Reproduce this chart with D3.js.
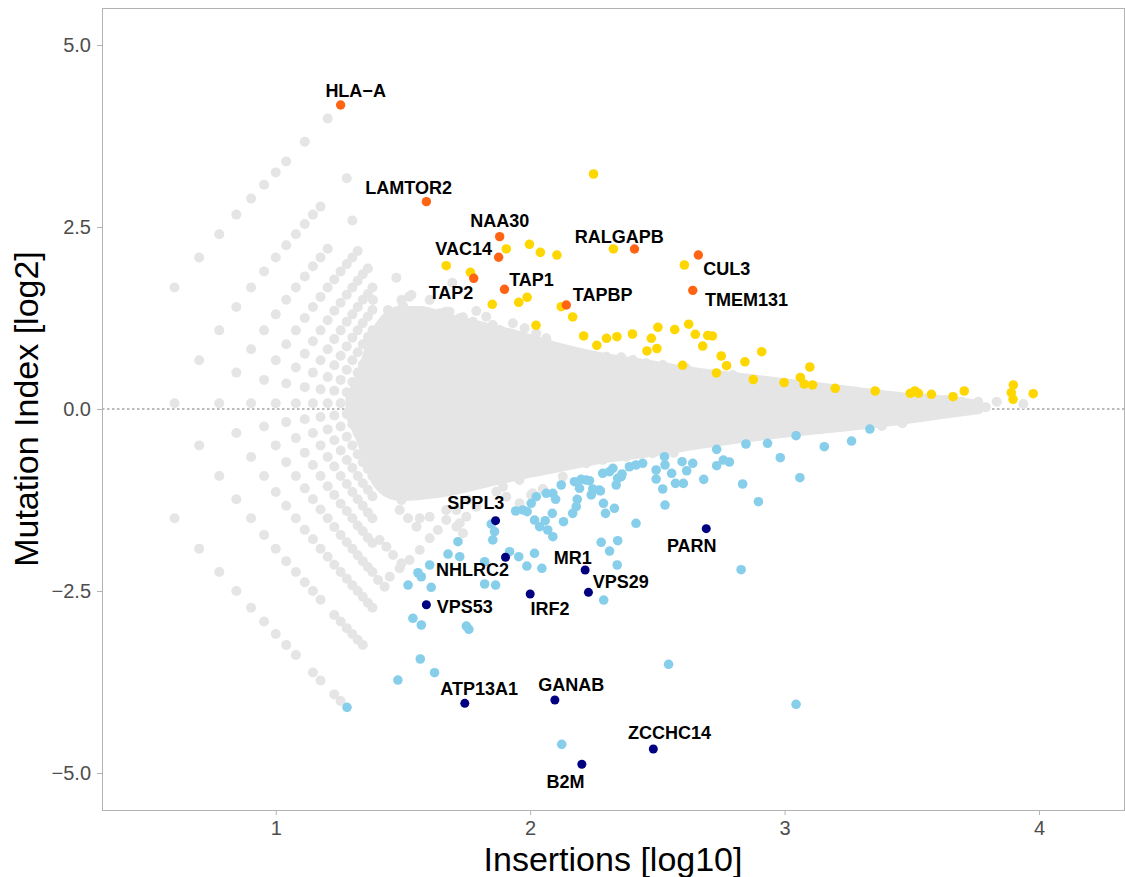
<!DOCTYPE html>
<html><head><meta charset="utf-8">
<script src="https://cdn.jsdelivr.net/npm/d3@7/dist/d3.min.js"></script>
<style>body{margin:0;background:#fff}svg{display:block}</style>
</head><body>
<svg id="chart" width="1125" height="877"></svg>
<script>
// ---------- DATA ----------
// low-insertion lattice columns: x = log10(insertions), y values present in each column
const latticeX = [0.602,0.699,0.778,0.845,0.903,0.954,1.000,1.041,1.079,1.114,1.146,1.176,1.204,1.230,1.255,1.279,1.301,1.322,1.342,1.362,1.380];
const latticeY = [
  [1.67,0.08,-1.50],
  [2.08,0.67,-0.50,-1.92],
  [2.40,1.08,0.08,-0.92,-2.24],
  [2.67,1.40,0.50,-0.33,-1.24,-2.50],
  [2.89,1.67,0.82,0.08,-0.66,-1.50,-2.73],
  [3.08,1.89,1.08,0.40,-0.24,-0.92,-1.73,-2.92],
  [3.25,2.08,1.30,0.67,0.08,-0.50,-1.14,-1.92,-3.09],
  [3.40,2.25,1.50,0.89,0.35,-0.18,-0.73,-1.33,-2.09,-3.24],
  [2.40,1.67,1.08,0.57,0.08,-0.40,-0.92,-1.50,-2.24,-3.38],
  [3.67,2.54,1.82,1.25,0.76,0.30,-0.14,-0.60,-1.09,-1.66,-2.38],
  [2.67,1.96,1.40,0.93,0.50,0.08,-0.33,-0.77,-1.24,-1.79,-2.50,-3.62],
  [2.78,2.08,1.54,1.08,0.67,0.27,-0.11,-0.50,-0.92,-1.38,-1.92,-2.62,-3.73],
  [3.99,2.20,1.67,1.22,0.82,0.44,0.08,-0.28,-0.66,-1.06,-1.50,-2.03],
  [1.78,1.35,0.96,0.60,0.25,-0.09,-0.43,-0.79,-1.18,-1.62,-2.14,-2.83,-3.92],
  [1.89,1.46,1.08,0.73,0.40,0.08,-0.24,-0.57,-0.92,-1.30,-1.73,-2.24,-2.92,-4.01],
  [3.17,1.99,1.57,1.20,0.86,0.54,0.23,-0.07,-0.38,-0.70,-1.03,-1.40,-1.83,-2.33,-3.01],
  [2.59,2.08,1.67,1.30,0.98,0.67,0.37,0.08,-0.21,-0.50,-0.81,-1.14,-1.50,-1.92,-2.42,-3.09],
  [2.17,1.76,1.40,1.08,0.78,0.50,0.22,-0.06,-0.33,-0.62,-0.92,-1.24,-1.60,-2.01,-2.50,-3.17],
  [1.85,1.50,1.18,0.89,0.61,0.35,0.08,-0.18,-0.45,-0.73,-1.02,-1.33,-1.68,-2.09,-2.58,-3.24],
  [1.93,1.58,1.27,0.99,0.72,0.46,0.21,-0.04,-0.30,-0.56,-0.82,-1.11,-1.42,-1.77,-2.17,-2.66],
  [1.67,1.36,1.08,0.82,0.57,0.32,0.08,-0.16,-0.40,-0.66,-0.92,-1.20,-1.50,-1.84,-2.24,-2.73]
];
// dense core of the grey cloud (envelope)
const cloudX      = [1.290,1.340,1.377,1.428,1.487,1.566,1.683,1.801,1.958,2.115,2.272,2.469,2.665,2.862,3.058,3.254,3.451,3.647,3.765];
const cloudTop    = [0.150,0.550,0.950,1.250,1.360,1.360,1.250,1.154,1.016,0.852,0.728,0.618,0.508,0.426,0.343,0.261,0.179,0.124,0.069];
const cloudBottom = [-0.100,-0.500,-0.900,-1.140,-1.209,-1.195,-1.140,-1.044,-0.920,-0.810,-0.700,-0.604,-0.495,-0.398,-0.316,-0.247,-0.165,-0.069,-0.014];
// grey points on the fringe of the cloud
const fringeX = [1.474,1.694,1.524,1.494,1.605,1.668,1.736,1.788,1.827,1.853,1.886,1.945,1.533,1.572,1.644,1.683,1.723,1.775,1.880,1.932,1.978,2.024,2.063,2.115,2.187,2.233,2.299,2.358,2.403,2.456,2.521,2.560,2.613,2.652,2.796,2.888,1.382,1.441,1.500,
 3.359,3.402,3.463,3.483,3.516,3.444,3.555,3.614,3.634,3.697,3.761,3.791,3.834,3.938,3.143,3.247,3.293,3.382,2.966,2.901,
 2.004,2.050,1.893,1.958,2.128,2.377,2.482,2.560,2.691,2.796,2.953,2.717,3.136,2.564,2.285,2.220,2.010,1.958,1.906,1.867,1.814,1.755,1.710,1.670,1.637,1.605,1.566,1.526,1.487,1.448,1.428,1.788,1.749,1.710,1.487,1.520,1.553,1.566,1.605,1.670,1.723,1.736,1.494,1.435,1.408,1.435,1.461,1.494,1.402];
const fringeY = [1.804,1.735,1.543,1.497,1.497,1.337,1.260,1.346,1.268,1.154,1.062,0.902,1.566,1.337,1.315,1.337,1.246,1.199,1.085,1.177,1.108,1.040,0.971,0.810,0.728,0.650,0.718,0.710,0.673,0.627,0.604,0.536,0.559,0.490,0.467,0.375,1.497,1.360,1.415,
 0.010,-0.106,-0.196,-0.082,-0.014,0.124,0.041,-0.014,0.124,0.100,0.100,0.023,0.100,0.069,-0.279,-0.128,-0.196,-0.234,-0.279,-0.279,
 -1.181,-1.099,-1.067,-0.975,-0.930,-0.655,-0.609,-0.563,-0.471,-0.357,-0.265,-0.463,-0.265,-0.600,-0.700,-0.746,-1.158,-1.295,-1.205,-1.136,-1.021,-1.250,-1.387,-1.525,-1.662,-1.776,-1.937,-2.074,-2.188,-2.304,-2.441,-1.342,-1.479,-1.617,-1.387,-1.501,-1.617,-1.501,-1.479,-1.387,-1.570,-1.707,-1.250,-1.021,-1.799,-1.891,-2.005,-2.120,-2.349];
// significant positive (yellow)
const upX = [2.249,1.906,1.997,2.040,2.105,1.670,1.765,1.851,1.955,1.988,2.023,2.327,2.606,2.122,2.167,2.210,2.262,2.300,2.341,2.402,2.476,2.502,2.459,2.498,2.568,2.623,2.649,2.698,2.716,2.678,2.751,2.772,2.844,2.910,2.599,2.732,2.877,2.998,3.062,3.099,3.077,3.110,3.199,3.356,3.494,3.512,3.526,3.577,3.662,3.706,3.899,3.891,3.898,3.977];
const upY = [3.228,2.198,2.262,2.152,2.115,1.968,1.878,1.438,1.466,1.534,1.150,2.198,1.978,1.405,1.264,1.003,0.875,0.971,0.993,1.030,0.971,1.122,0.797,0.831,1.091,1.165,1.026,1.010,1.003,0.865,0.728,0.595,0.648,0.787,0.600,0.495,0.405,0.364,0.433,0.577,0.343,0.330,0.284,0.247,0.216,0.247,0.216,0.202,0.169,0.247,0.330,0.224,0.133,0.210];
// significant negative (light blue)
const downX = [2.285,2.325,2.344,2.338,2.361,2.220,2.174,2.122,2.194,2.089,2.063,2.100,2.185,2.181,2.240,2.272,2.288,2.331,2.296,2.167,2.087,2.131,2.017,1.988,1.943,1.971,2.037,2.069,2.089,2.416,2.344,2.279,2.312,2.342,2.289,1.847,1.860,1.853,1.716,1.677,1.723,1.605,1.559,1.572,1.520,1.611,1.821,1.919,1.955,2.017,1.987,2.046,1.821,1.864,1.539,1.572,1.749,1.759,1.568,1.624,1.480,1.280,2.124,2.544,3.045,2.829,3.045,2.933,3.156,3.263,2.848,2.733,2.983,3.060,2.759,2.783,2.733,2.835,2.897,2.682,2.639,2.597,2.615,2.556,2.571,2.602,2.530,2.528,2.495,2.495,2.521,2.530,2.442,2.416,2.390,2.312,2.358,2.276,2.246,2.233,2.200,3.335,2.004,2.024,2.059];
const downY = [-0.883,-0.815,-0.952,-1.044,-0.893,-0.975,-0.999,-1.044,-1.089,-1.158,-1.158,-1.240,-1.240,-1.342,-1.181,-1.113,-1.295,-1.364,-1.433,-1.433,-1.433,-1.548,-1.525,-1.411,-1.401,-1.387,-1.617,-1.662,-1.754,-1.570,-1.809,-1.831,-1.951,-2.143,-2.624,-1.580,-1.685,-1.799,-1.823,-1.992,-2.029,-2.143,-2.249,-2.304,-2.418,-2.449,-2.098,-1.960,-2.029,-1.982,-2.157,-2.188,-2.404,-2.418,-2.875,-2.967,-2.981,-3.026,-3.434,-3.622,-3.723,-4.098,-4.606,-3.507,-4.056,-2.207,-0.367,-0.471,-0.518,-0.440,-0.481,-0.554,-0.669,-0.944,-0.701,-0.728,-0.779,-1.030,-1.273,-0.966,-0.746,-0.724,-0.848,-0.883,-1.021,-1.021,-0.769,-0.655,-0.838,-0.962,-1.099,-1.319,-0.746,-0.769,-0.793,-0.861,-0.930,-1.126,-1.099,-0.985,-0.966,-0.275,-1.295,-1.205,-1.534];
// labelled hits
const hitUpNames = ["HLA\u2212A","LAMTOR2","NAA30","VAC14","TAP2","TAP1","TAPBP","RALGAPB","CUL3","TMEM131"];
const hitUpX = [1.255,1.592,1.880,1.876,1.778,1.899,2.142,2.410,2.661,2.639];
const hitUpY = [4.176,2.848,2.367,2.084,1.795,1.644,1.429,2.198,2.115,1.630];
const hitDownNames = ["SPPL3","NHLRC2","MR1","VPS29","IRF2","VPS53","ATP13A1","GANAB","PARN","B2M","ZCCHC14"];
const hitDownX = [1.864,1.903,2.216,2.229,2.000,1.592,1.743,2.097,2.692,2.203,2.484];
const hitDownY = [-1.534,-2.037,-2.212,-2.518,-2.541,-2.688,-4.043,-3.997,-1.644,-4.880,-4.670];
const xTicks = [1,2,3,4];
const yTicks = [5,2.5,0,-2.5,-5];

// ---------- LAYOUT (label offsets in px, repel-style) ----------
const upLabelOffset = [[15,-14],[-17.7,-13.7],[0,-16.4],[-35,-8.5],[-22.7,13.9],[27,-9.3],[36.3,-10.8],[-15.3,-12.7],[28.3,13.3],[53.7,9.4]];
const downLabelOffset = [[-19.7,-17.7],[-33,12.7],[-12.4,-12.5],[32.3,-11.1],[19.8,14.3],[38.3,2],[14.4,-15],[16.4,-15.5],[-14.5,16.6],[-16.3,17.4],[16.3,-16.3]];

// ---------- DRAW ----------
const svg = d3.select("#chart");
const L=102, R=1124, T=8, B=810;
const x = d3.scaleLinear().domain([0.317,4.334]).range([L,R]);
const y = d3.scaleLinear().domain([-5.508,5.508]).range([B,T]);
const GREY="#e5e5e5", YEL="#ffd700", ORG="#ff6414", SKY="#87ceeb", NAVY="#000080";
const FONT="'Liberation Sans', Arial, Helvetica, sans-serif";

const g = svg.append("g");
g.append("rect").attr("x",L).attr("y",T).attr("width",R-L).attr("height",B-T)
  .attr("fill","#fff");
// zero line
g.append("line").attr("x1",L).attr("x2",R).attr("y1",y(0)).attr("y2",y(0))
  .attr("stroke","#555").attr("stroke-width",0.8).attr("stroke-dasharray","2.5,2.5");

// cloud core
const cloud = cloudX.map((v,i)=>({x:v,t:cloudTop[i],b:cloudBottom[i]}));
g.append("path").datum(cloud)
  .attr("d", d3.area().x(d=>x(d.x)).y0(d=>y(d.b)).y1(d=>y(d.t)).curve(d3.curveMonotoneX))
  .attr("fill",GREY).attr("stroke",GREY).attr("stroke-width",8).attr("stroke-linejoin","round");

// lattice + fringe grey points
const greyPts = [];
latticeX.forEach((lx,i)=>latticeY[i].forEach(v=>greyPts.push([lx,v])));
fringeX.forEach((fx,i)=>greyPts.push([fx,fringeY[i]]));
g.append("g").selectAll("circle").data(greyPts).join("circle")
  .attr("cx",d=>x(d[0])).attr("cy",d=>y(d[1])).attr("r",5).attr("fill",GREY);

// yellow
g.append("g").selectAll("circle").data(upX.map((v,i)=>[v,upY[i]])).join("circle")
  .attr("cx",d=>x(d[0])).attr("cy",d=>y(d[1])).attr("r",4.8).attr("fill",YEL);
// light blue
g.append("g").selectAll("circle").data(downX.map((v,i)=>[v,downY[i]])).join("circle")
  .attr("cx",d=>x(d[0])).attr("cy",d=>y(d[1])).attr("r",4.8).attr("fill",SKY);
// orange hits
g.append("g").selectAll("circle").data(hitUpX.map((v,i)=>[v,hitUpY[i]])).join("circle")
  .attr("cx",d=>x(d[0])).attr("cy",d=>y(d[1])).attr("r",4.7).attr("fill",ORG);
// navy hits
g.append("g").selectAll("circle").data(hitDownX.map((v,i)=>[v,hitDownY[i]])).join("circle")
  .attr("cx",d=>x(d[0])).attr("cy",d=>y(d[1])).attr("r",4.5).attr("fill",NAVY);

// labels
const FS=18;
function labels(names,xs,ys,offs){
  g.append("g").selectAll("text").data(names).join("text")
    .attr("x",(d,i)=>x(xs[i])+offs[i][0])
    .attr("y",(d,i)=>y(ys[i])+offs[i][1]+FS*0.36)
    .attr("text-anchor","middle").attr("font-family",FONT).attr("font-weight","bold")
    .attr("font-size",FS).attr("fill","#000").text(d=>d);
}
labels(hitUpNames,hitUpX,hitUpY,upLabelOffset);
labels(hitDownNames,hitDownX,hitDownY,downLabelOffset);

// panel border
svg.append("rect").attr("x",L+0.5).attr("y",T+0.5).attr("width",R-L).attr("height",B-T)
  .attr("fill","none").attr("stroke","#b3b3b3").attr("stroke-width",1);

// axes
const xa = svg.append("g").attr("transform",`translate(0,${B})`)
  .call(d3.axisBottom(x).tickValues(xTicks).tickFormat(d3.format("d")).tickSize(5).tickPadding(6));
const ya = svg.append("g").attr("transform",`translate(${L},0)`)
  .call(d3.axisLeft(y).tickValues(yTicks).tickFormat(d=>d3.format(".1f")(d).replace("-","\u2212")).tickSize(5).tickPadding(6));
[xa,ya].forEach(a=>{
  a.select(".domain").remove();
  a.selectAll(".tick line").attr("stroke","#b3b3b3");
  a.selectAll(".tick text").attr("fill","#4d4d4d").attr("font-size",20).attr("font-family",FONT);
});

// titles
svg.append("text").attr("x",(L+R)/2).attr("y",871).attr("text-anchor","middle")
  .attr("font-family",FONT).attr("font-size",34).attr("fill","#000").text("Insertions [log10]");
svg.append("text").attr("transform",`translate(38,${(T+B)/2}) rotate(-90)`).attr("text-anchor","middle")
  .attr("font-family",FONT).attr("font-size",34).attr("fill","#000").text("Mutation Index [log2]");
</script>
</body></html>
